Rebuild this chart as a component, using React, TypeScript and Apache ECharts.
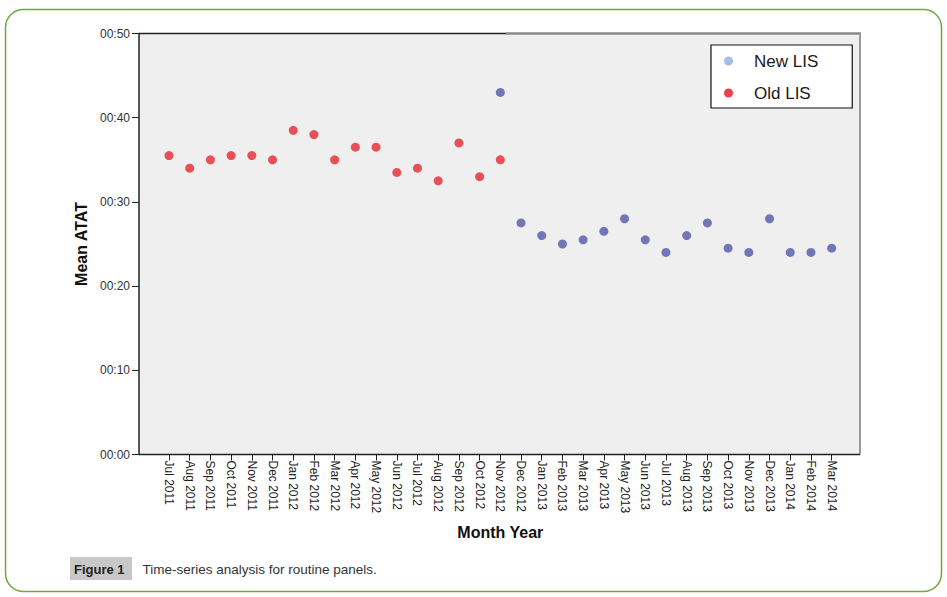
import React, { useEffect, useRef } from "react";
import * as echarts from "echarts";

const categories = [
  "Jul 2011", "Aug 2011", "Sep 2011", "Oct 2011", "Nov 2011", "Dec 2011",
  "Jan 2012", "Feb 2012", "Mar 2012", "Apr 2012", "May 2012", "Jun 2012",
  "Jul 2012", "Aug 2012", "Sep 2012", "Oct 2012", "Nov 2012", "Dec 2012",
  "Jan 2013", "Feb 2013", "Mar 2013", "Apr 2013", "May 2013", "Jun 2013",
  "Jul 2013", "Aug 2013", "Sep 2013", "Oct 2013", "Nov 2013", "Dec 2013",
  "Jan 2014", "Feb 2014", "Mar 2014",
];

// Mean ATAT in minutes
const oldLisMonths = categories.slice(0, 17);
const oldLisValues = [35.5, 34, 35, 35.5, 35.5, 35, 38.5, 38, 35, 36.5, 36.5, 33.5, 34, 32.5, 37, 33, 35];

const newLisMonths = categories.slice(16);
const newLisValues = [43, 27.5, 26, 25, 25.5, 26.5, 28, 25.5, 24, 26, 27.5, 24.5, 24, 28, 24, 24, 24.5];

const yTicks = [0, 10, 20, 30, 40, 50];

const FONT = "Liberation Sans, Arial, sans-serif";

export default function App() {
  const ref = useRef<HTMLDivElement>(null);

  useEffect(() => {
    if (!ref.current) return;
    const chart = echarts.init(ref.current, undefined, { renderer: "svg" });

    const plotL = 139;
    const plotR = 860;
    const plotT = 33.5;
    const plotB = 454.5;

    chart.setOption({
      animation: false,
      backgroundColor: "#ffffff",
      textStyle: { fontFamily: FONT },
      grid: {
        left: 158.65,
        right: 947 - 842,
        top: plotT,
        bottom: 597 - plotB,
        containLabel: false,
      },
      legend: {
        orient: "vertical",
        left: 711,
        top: 45,
        backgroundColor: "#ffffff",
        borderColor: "#111111",
        borderWidth: 1.2,
        borderRadius: 0,
        padding: [6, 34, 5, 13],
        itemGap: 12,
        itemWidth: 9,
        itemHeight: 9,
        icon: "circle",
        textStyle: {
          fontFamily: FONT,
          fontSize: 17,
          lineHeight: 20,
          color: "#1a1a1a",
          padding: [0, 0, 0, 16],
        },
        data: [
          { name: "New LIS", itemStyle: { color: "#8eacdc" } },
          { name: "Old LIS", itemStyle: { color: "#e6141e" } },
        ],
      },
      xAxis: {
        type: "category",
        data: categories,
        boundaryGap: true,
        name: "Month Year",
        nameLocation: "middle",
        nameGap: 70,
        nameTextStyle: { fontFamily: FONT, fontWeight: "bold", fontSize: 16, color: "#111" },
        axisLine: { show: false },
        axisTick: { show: true, alignWithLabel: true, length: 6, lineStyle: { color: "#222", width: 1 } },
        axisLabel: {
          interval: 0,
          rotate: -90,
          fontSize: 12,
          color: "#222",
          margin: 6,
          fontFamily: FONT,
        },
        splitLine: { show: false },
      },
      yAxis: {
        type: "value",
        min: 0,
        max: 50,
        interval: 10,
        offset: 19.65,
        name: "Mean ATAT",
        nameLocation: "middle",
        nameRotate: 90,
        nameGap: 48,
        nameTextStyle: { fontFamily: FONT, fontWeight: "bold", fontSize: 16, color: "#111" },
        axisLine: { show: true, lineStyle: { color: "#222", width: 1.5 } },
        axisTick: { show: true, length: 7, lineStyle: { color: "#222", width: 1 } },
        axisLabel: {
          fontSize: 12,
          color: "#333",
          margin: 9,
          fontFamily: FONT,
          formatter: (v: number) =>
            yTicks.includes(v) ? "00:" + String(v).padStart(2, "0") : "",
        },
        splitLine: { show: false },
      },
      series: [
        {
          name: "Old LIS",
          type: "scatter",
          symbol: "circle",
          symbolSize: 9,
          itemStyle: { color: "#e4282f" },
          data: oldLisMonths.map((m, i) => [m, oldLisValues[i]]),
          z: 3,
        },
        {
          name: "New LIS",
          type: "scatter",
          symbol: "circle",
          symbolSize: 9,
          itemStyle: { color: "#5458a8" },
          data: newLisMonths.map((m, i) => [m, newLisValues[i]]),
          z: 3,
        },
      ],
      graphic: [
        {
          type: "rect",
          z: -10,
          shape: { x: 5.5, y: 9.5, width: 936, height: 582, r: 18 },
          style: { fill: "none", stroke: "#74a63c", lineWidth: 1.5 },
        },
        {
          type: "rect",
          z: -5,
          shape: { x: plotL, y: plotT, width: plotR - plotL, height: plotB - plotT },
          style: { fill: "#efefef" },
        },
        {
          type: "line",
          z: 5,
          shape: { x1: plotL, y1: plotT, x2: 506, y2: plotT },
          style: { stroke: "#222", lineWidth: 1.5 },
        },
        {
          type: "line",
          z: 5,
          shape: { x1: 506, y1: plotT, x2: plotR + 1, y2: plotT },
          style: { stroke: "#8a8a8a", lineWidth: 2.5 },
        },
        {
          type: "line",
          z: 5,
          shape: { x1: plotR, y1: plotT, x2: plotR, y2: plotB },
          style: { stroke: "#9a9a9a", lineWidth: 2 },
        },
        {
          type: "line",
          z: 5,
          shape: { x1: plotL, y1: plotB, x2: plotR, y2: plotB },
          style: { stroke: "#222", lineWidth: 1.5 },
        },
        {
          type: "rect",
          z: 5,
          shape: { x: 70, y: 557, width: 62, height: 23 },
          style: { fill: "#c8c8c8" },
        },
        {
          type: "text",
          z: 6,
          x: 74,
          y: 569,
          style: {
            text: "Figure 1",
            fontFamily: FONT,
            fontWeight: "bold",
            fontSize: 13,
            fill: "#222",
            verticalAlign: "middle",
            textAlign: "left",
          },
        },
        {
          type: "text",
          z: 6,
          x: 142.5,
          y: 569,
          style: {
            text: "Time-series analysis for routine panels.",
            fontFamily: FONT,
            fontSize: 13.5,
            fill: "#333",
            verticalAlign: "middle",
            textAlign: "left",
          },
        },
      ],
    });

    return () => chart.dispose();
  }, []);

  return (
    <div
      ref={ref}
      style={{ position: "absolute", left: 0, top: 0, width: 947, height: 597 }}
    />
  );
}
